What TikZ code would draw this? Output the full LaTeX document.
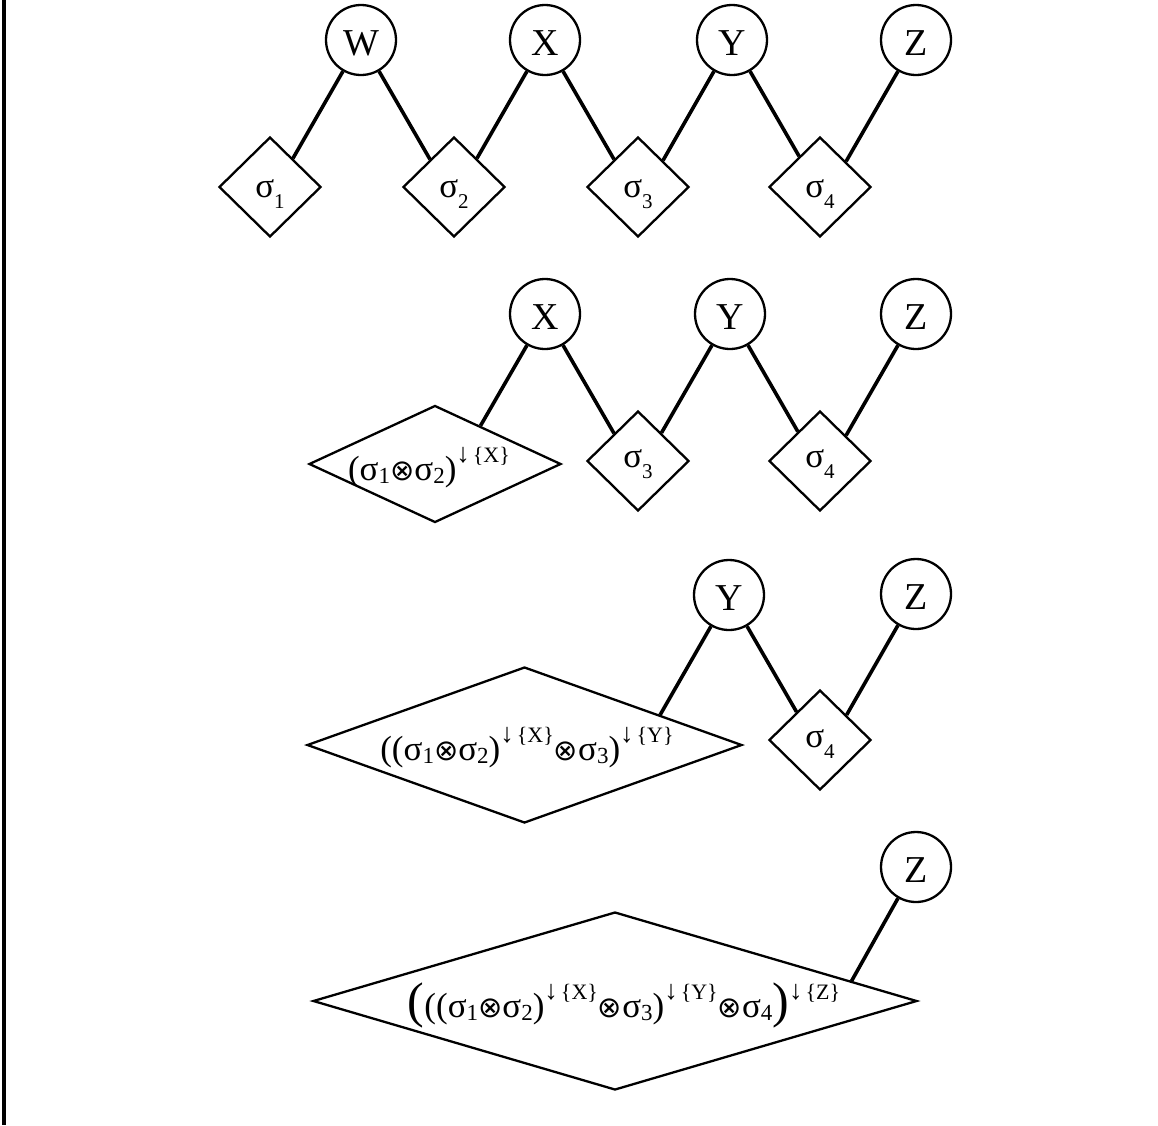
\documentclass[tikz,border=0pt]{standalone}
\usepackage{fontspec}
\setmainfont{Liberation Serif}
\newfontfamily\djv{DejaVu Sans}
\usetikzlibrary{shapes.geometric,calc}
\newcommand\mylo[1]{\raisebox{-3pt}{\fontsize{23}{23}\selectfont #1}}
\newcommand\myhi[1]{\raisebox{18pt}{\fontsize{22}{22}\selectfont {\fontsize{27}{27}\selectfont ↓}\hspace{3pt}\{#1\}}}
\newcommand\mysg[1]{σ\raisebox{-11pt}{\fontsize{21}{21}\selectfont #1}}
\newcommand\myot{{\djv\fontsize{29}{29}\selectfont ⊗}}
\newcommand\bigp[1]{{\fontsize{50}{50}\selectfont #1}}
\begin{document}
\begin{tikzpicture}[x=1pt,y=-1pt,
  vc/.style={circle, draw, line width=2.3pt, minimum size=70pt, inner sep=0pt,
    label={[font=\fontsize{38}{42}\selectfont, yshift=-3pt]center:#1}},
  fd/.style={diamond, draw, line width=2.3pt, minimum width=102pt, minimum height=100pt, inner sep=0pt},
  bd/.style={diamond, draw, line width=2.3pt, inner sep=0pt},
  lab/.style={anchor=base, inner sep=0pt, font=\fontsize{35}{40}\selectfont},
  con/.style={line width=3.6pt}]
\useasboundingbox (0,0) rectangle (1158,1125);
\draw[line width=4pt] (3.5,0) -- (3.5,1125);

% ---------- row 1 ----------
\node[vc=W] (W1) at (361,40) {};
\node[vc=X] (X1) at (545,40) {};
\node[vc=Y] (Y1) at (732,40) {};
\node[vc=Z] (Z1) at (916,40) {};
\node[fd] (a1) at (270,187) {};
\node[fd] (a2) at (454,187) {};
\node[fd] (a3) at (638,187) {};
\node[fd] (a4) at (820,187) {};
\node[lab] (ta1) at (270,197) {\mysg{1}};
\node[lab] (ta2) at (454,197) {\mysg{2}};
\node[lab] (ta3) at (638,197) {\mysg{3}};
\node[lab] (ta4) at (820,197) {\mysg{4}};
\draw[con] (W1.-120) -- ($(a1.north)!0.44!(a1.east)$);
\draw[con] (W1.-60) -- ($(a2.north)!0.46!(a2.west)$);
\draw[con] (X1.-120) -- ($(a2.north)!0.44!(a2.east)$);
\draw[con] (X1.-60) -- ($(a3.north)!0.46!(a3.west)$);
\draw[con] (Y1.-120) -- ($(a3.north)!0.48!(a3.east)$);
\draw[con] (Y1.-60) -- ($(a4.north)!0.40!(a4.west)$);
\draw[con] (Z1.-120) -- ($(a4.north)!0.50!(a4.east)$);

% ---------- row 2 ----------
\node[vc=X] (X2) at (545,314) {};
\node[vc=Y] (Y2) at (730,314) {};
\node[vc=Z] (Z2) at (916,314) {};
\node[bd, minimum width=252pt, minimum height=117pt] (b1) at (435,464) {};
\node[fd] (b3) at (638,461) {};
\node[fd] (b4) at (820,461) {};
\node[lab] (tb1) at (429,480) {(σ\mylo{1}\myot σ\mylo{2})\myhi{X}};
\node[lab] (tb3) at (638,467) {\mysg{3}};
\node[lab] (tb4) at (820,467) {\mysg{4}};
\draw[con] (X2.-120) -- ($(b1.north)!0.358!(b1.east)$);
\draw[con] (X2.-60) -- ($(b3.north)!0.46!(b3.west)$);
\draw[con] (Y2.-120) -- ($(b3.north)!0.45!(b3.east)$);
\draw[con] (Y2.-60) -- ($(b4.north)!0.425!(b4.west)$);
\draw[con] (Z2.-120) -- ($(b4.north)!0.50!(b4.east)$);

% ---------- row 3 ----------
\node[vc=Y] (Y3) at (729,595) {};
\node[vc=Z] (Z3) at (916,594) {};
\node[bd, minimum width=435pt, minimum height=156pt] (c1) at (524.5,745) {};
\node[fd] (c4) at (820,740) {};
\node[lab] (tc1) at (527,760) {((σ\mylo{1}\myot σ\mylo{2})\myhi{X}\myot σ\mylo{3})\myhi{Y}};
\node[lab] (tc4) at (820,747) {\mysg{4}};
\draw[con] (Y3.-120) -- ($(c1.north)!0.62!(c1.east)$);
\draw[con] (Y3.-60) -- ($(c4.north)!0.45!(c4.west)$);
\draw[con] (Z3.-120) -- ($(c4.north)!0.51!(c4.east)$);

% ---------- row 4 ----------
\node[vc=Z] (Z4) at (916,867) {};
\node[bd, minimum width=604pt, minimum height=178pt] (d1) at (615,1001) {};
\node[lab] (td1) at (624,1017) {\bigp{(}((σ\mylo{1}\myot σ\mylo{2})\myhi{X}\myot σ\mylo{3})\myhi{Y}\myot σ\mylo{4}\bigp{)}\myhi{Z}};
\draw[con] (Z4.-120) -- ($(d1.north)!0.78!(d1.east)$);
\end{tikzpicture}
\end{document}
